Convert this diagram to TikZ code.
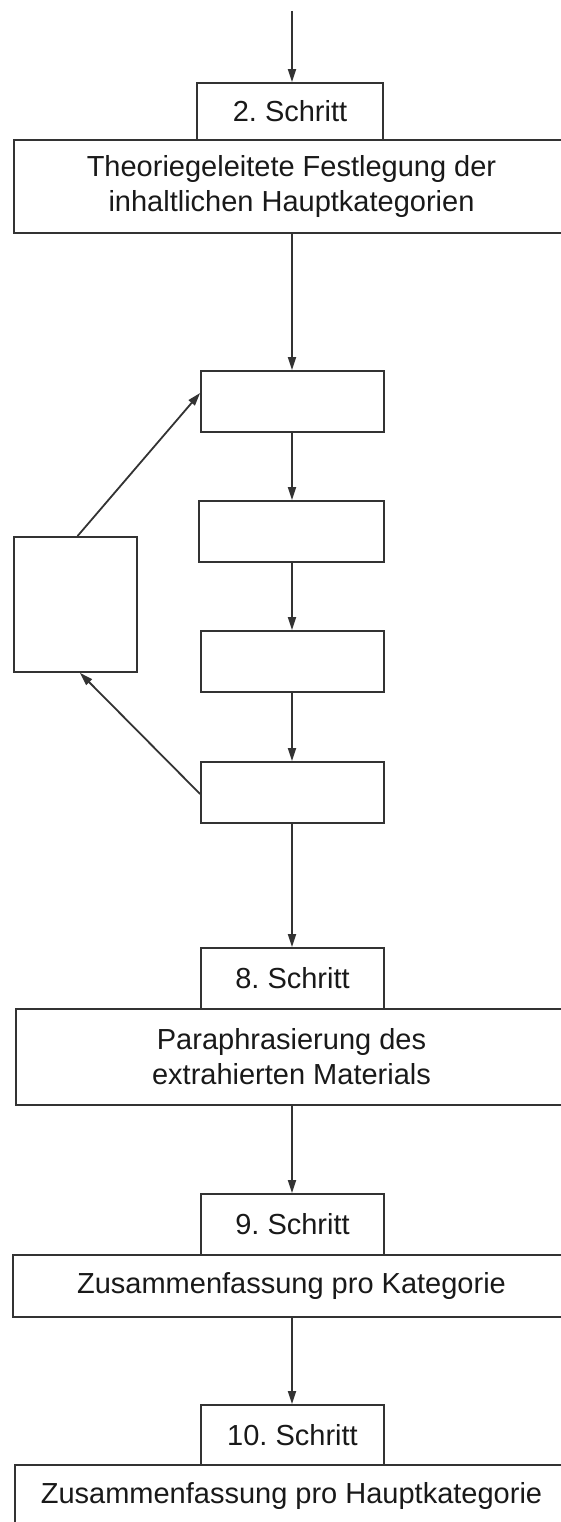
\documentclass[tikz,border=0pt]{standalone}
\usepackage{fontspec}
\setmainfont{Liberation Sans}
\usetikzlibrary{arrows.meta,calc}
\frenchspacing
\begin{document}
\begin{tikzpicture}[x=1pt,y=-1pt,
  line width=1.8pt,
  boxnode/.style={draw=black!80, line width=1.8pt, inner sep=0pt, align=center,
    font=\fontsize{29}{35}\selectfont, text=black!90},
  small/.style={boxnode, minimum width=183pt, minimum height=61pt},
  wide/.style={boxnode, minimum width=555pt},
  arr/.style={draw=black!80, line width=1.8pt, -{Triangle[length=13pt,width=8pt]}}
]
\useasboundingbox (0,0) rectangle (561,1522);
\clip (0,0) rectangle (561,1522);

\coordinate (top) at (292,11);
\node[boxnode, minimum width=186pt, minimum height=57pt] (s2) at (290,111.5) {2. Schritt};
\node[wide, minimum height=93pt] (m2) at (291.5,186.5) {Theoriegeleitete Festlegung der\\inhaltlichen Hauptkategorien};

\node[small] (A) at (292.5,401.5) {};
\node[small, minimum width=185pt] (B) at (291.5,531.5) {};
\node[small] (C) at (292.5,661.5) {};
\node[small] (D) at (292.5,792.5) {};
\node[boxnode, minimum width=123pt, minimum height=135pt] (L) at (75.5,604.5) {};

\node[small] (s8) at (292.5,978.5) {8. Schritt};
\node[wide, minimum height=96pt, minimum width=551pt] (m8) at (291.5,1057) {Paraphrasierung des\\extrahierten Materials};

\node[small] (s9) at (292.5,1224.5) {9. Schritt};
\node[wide, minimum height=62pt, minimum width=557pt] (m9) at (291.5,1286) {Zusammenfassung pro Kategorie};

\node[small, minimum height=60pt] (s10) at (292.5,1435) {10. Schritt};
\node[wide, minimum height=62pt, minimum width=553pt] (m10) at (291.5,1496) {Zusammenfassung pro Hauptkategorie};

\draw[arr] (top) -- (top |- s2.north);
\draw[arr] (top |- m2.south) -- (top |- A.north);
\draw[arr] (top |- A.south) -- (top |- B.north);
\draw[arr] (top |- B.south) -- (top |- C.north);
\draw[arr] (top |- C.south) -- (top |- D.north);
\draw[arr] (top |- D.south) -- (top |- s8.north);
\draw[arr] (top |- m8.south) -- (top |- s9.north);
\draw[arr] (top |- m9.south) -- (top |- s10.north);

\draw[arr] ($(L.north)+(2,0)$) -- ($(A.west)+(0,-8.5)$);
\draw[arr] ($(D.west)+(0,1.5)$) -- ($(L.south)+(4.5,0)$);
\end{tikzpicture}
\end{document}
